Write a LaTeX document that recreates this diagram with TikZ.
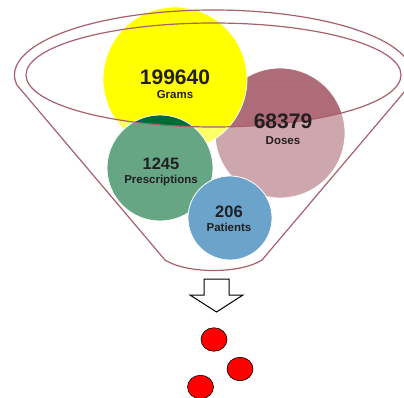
\documentclass[tikz,border=0pt]{standalone}
\usepackage{fontspec}
\setmainfont{Liberation Sans}
\usetikzlibrary{shapes.geometric}

\definecolor{funnelline}{HTML}{A8606C}
\definecolor{gramsfill}{HTML}{FFFF00}
\definecolor{dosesfill}{HTML}{AE6C78}
\definecolor{prescfill}{HTML}{006B35}
\definecolor{patientfill}{HTML}{0A67A8}
\definecolor{labeltext}{HTML}{231F20}

\begin{document}
\begin{tikzpicture}[x=1pt, y=-1pt,
    bubble/.style={circle, draw=white, line width=0.8pt, inner sep=0pt},
    bignum/.style={anchor=base, text=labeltext, font=\fontsize{21}{21}\selectfont\bfseries},
    smallnum/.style={anchor=base, text=labeltext, font=\fontsize{16.5}{16.5}\selectfont\bfseries},
    caption/.style={anchor=base, text=labeltext, font=\fontsize{11.5}{11.5}\selectfont\bfseries},
    funnel/.style={draw=funnelline, line width=1.2pt},
    drop/.style={ellipse, draw=black, line width=0.6pt, fill=red, inner sep=0pt,
                 minimum width=26pt, minimum height=23.5pt}]

    \useasboundingbox (0,0) rectangle (404,398);

    % Dimensoes do funil
    \def\cx{213.5}      % eixo do funil
    \def\cy{75}         % centro das elipses
    \def\lx{16.9}       % ponto onde a borda vira lado esquerdo
    \def\rx{410.1}      % ponto onde a borda vira lado direito

    % Bolhas
    \node[bubble, fill=dosesfill, minimum size=130pt] (doses) at (280,133) {};
    \node[bubble, fill=gramsfill, minimum size=144pt] (grams) at (175,79) {};
    \node[bubble, fill=prescfill, minimum size=106pt] (presc) at (160,168) {};
    \node[bubble, fill=patientfill, minimum size=84pt] (patients) at (230,218) {};

    % Corpo do funil (branco translucido, sem a boca)
    \begin{scope}
        \clip (\lx,85) -- (\rx,85) -- (262,260) .. controls (240,274) and (187,274) .. (165,260) -- cycle;
        \fill[white, fill opacity=0.4, even odd rule]
            (0,85) rectangle (410,280)
            (\cx,\cy) ellipse [x radius=187.5, y radius=52];
    \end{scope}

    % Contorno do funil
    \draw[funnel] (\lx,85) arc[start angle=171.15, end angle=368.85, x radius=199, y radius=65]
        -- (262,260) .. controls (240,274) and (187,274) .. (165,260) -- cycle;
    \draw[funnel] (\cx,\cy) ellipse [x radius=187.5, y radius=52];

    % Rotulos das bolhas
    \node[bignum] (gramsnum) at ([yshift=-6pt]grams.center) {199640};
    \node[caption] (gramslbl) at ([yshift=-20pt]grams.center) {Grams};
    \node[bignum] (dosesnum) at ([xshift=3pt, yshift=4pt]doses.center) {68379};
    \node[caption] (doseslbl) at ([xshift=3pt, yshift=-12pt]doses.center) {Doses};
    \node[smallnum] (prescnum) at ([xshift=1pt, yshift=-2pt]presc.center) {1245};
    \node[caption] (presclbl) at ([xshift=1pt, yshift=-16pt]presc.center) {Prescriptions};
    \node[smallnum] (patientsnum) at ([xshift=-1pt, yshift=1pt]patients.center) {206};
    \node[caption] (patientslbl) at ([xshift=-1pt, yshift=-13pt]patients.center) {Patients};

    % Seta para baixo
    \draw[black, line width=1pt, fill=white]
        (204,279) -- (229,279) -- (229,295) -- (243,295) -- (216.5,312)
        -- (190,295) -- (204,295) -- cycle;

    % Gotas
    \node[drop] (drop1) at (214,339.5) {};
    \node[drop] (drop2) at (240,369) {};
    \node[drop] (drop3) at (200.5,387) {};

\end{tikzpicture}
\end{document}
